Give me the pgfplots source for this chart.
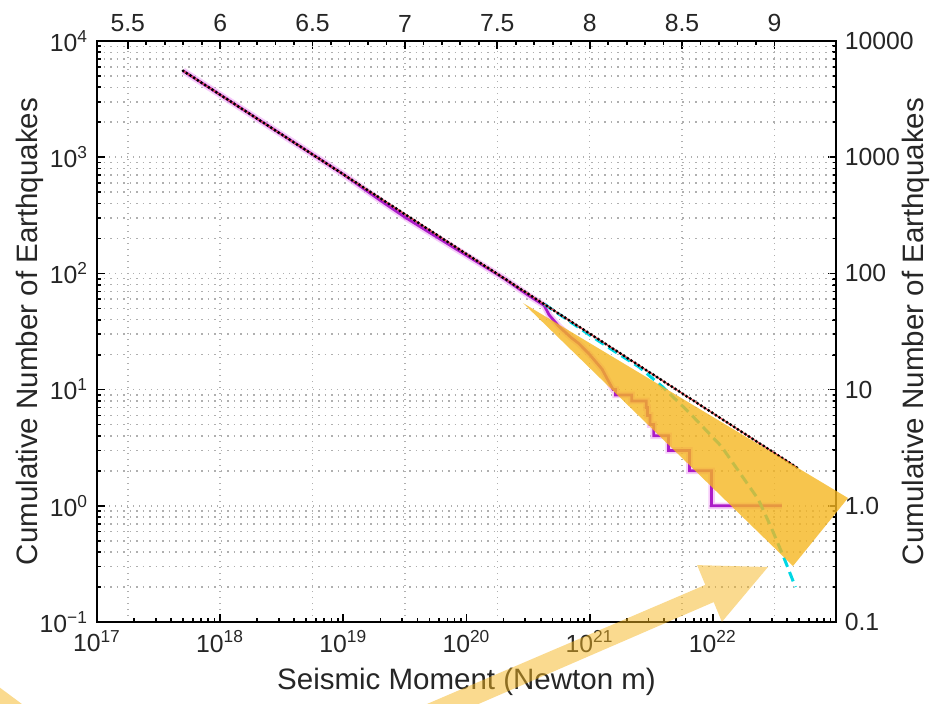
\documentclass[border=0pt]{standalone}
\usepackage{fontspec}
\setmainfont{Liberation Sans}
\usepackage{pgfplots}
\pgfplotsset{compat=1.18}
\usetikzlibrary{calc}
\definecolor{mag}{RGB}{172,28,200}
\definecolor{magglow}{RGB}{240,170,245}
\definecolor{cyn}{RGB}{0,215,228}
\definecolor{yel}{RGB}{245,182,32}
\definecolor{gridc}{RGB}{175,175,175}
\definecolor{redl}{RGB}{225,80,90}

\begin{document}
\begin{tikzpicture}
\pgfplotsset{
  every axis/.append style={
    scale only axis, width=295.6pt, height=232.4pt,
    axis line style={line width=1pt, black},
    tick style={line width=0.7pt, black},
    major tick length=3.2pt, minor tick length=1.7pt,
    tick label style={font=\fontsize{9.9}{12}\selectfont, text=black!85},
    /pgf/number format/assume math mode=true,
    grid style={gridc, dotted, line width=0.6pt},
    minor grid style={gridc, dotted, line width=0.6pt},
  }
}
% ---------- top (moment magnitude) and right axis ----------
\begin{axis}[
  xmin=5.333333, xmax=9.333333,
  ymode=log, ymin=0.1, ymax=10000,
  axis x line*=top, axis y line*=right,
  xtick={5.5,6,6.5,7,7.5,8,8.5,9},
  xticklabels={5.5,6,6.5,7,7.5,8,8.5,9},
  minor x tick num=4,
  xmajorgrids,
  ytick={0.1,1,10,100,1000,10000},
  yticklabels={0.1,1.0,10,100,1000,10000},
  minor ytick={0.2,0.3,0.4,0.5,0.6,0.7,0.8,0.9,2,3,4,5,6,7,8,9,20,30,40,50,60,70,80,90,200,300,400,500,600,700,800,900,2000,3000,4000,5000,6000,7000,8000,9000},
  ylabel={Cumulative Number of Earthquakes},
  every axis y label/.style={at={(axis description cs:1.108,0.5)}, rotate=90, anchor=center,
    font=\fontsize{11.8}{14}\selectfont, text=black!85},
]
\end{axis}
% ---------- main axis ----------
\begin{axis}[
  xmode=log, ymode=log,
  xmin=1e17, xmax=1e23, ymin=0.1, ymax=10000,
  xtick pos=left, ytick pos=left,
  xtick={1e17,1e18,1e19,1e20,1e21,1e22},
  xticklabels={10\textsuperscript{17},10\textsuperscript{18},10\textsuperscript{19},10\textsuperscript{20},10\textsuperscript{21},10\textsuperscript{22}},
  minor xtick={2e17,3e17,4e17,5e17,6e17,7e17,8e17,9e17,2e18,3e18,4e18,5e18,6e18,7e18,8e18,9e18,2e19,3e19,4e19,5e19,6e19,7e19,8e19,9e19,2e20,3e20,4e20,5e20,6e20,7e20,8e20,9e20,2e21,3e21,4e21,5e21,6e21,7e21,8e21,9e21,2e22,3e22,4e22,5e22,6e22,7e22,8e22,9e22},
  ytick={0.1,1,10,100,1000,10000},
  yticklabels={10\textsuperscript{−1},10\textsuperscript{0},10\textsuperscript{1},10\textsuperscript{2},10\textsuperscript{3},10\textsuperscript{4}},
  minor ytick={0.2,0.3,0.4,0.5,0.6,0.7,0.8,0.9,2,3,4,5,6,7,8,9,20,30,40,50,60,70,80,90,200,300,400,500,600,700,800,900,2000,3000,4000,5000,6000,7000,8000,9000},
  ymajorgrids, yminorgrids,
  clip=false,
  xlabel={Seismic Moment (Newton m)},
  ylabel={Cumulative Number of Earthquakes},
  every axis x label/.style={at={(axis description cs:0.5,-0.103)}, anchor=center,
    font=\fontsize{11.8}{14}\selectfont, text=black!85},
  every axis y label/.style={at={(axis description cs:-0.0905,0.5)}, rotate=90, anchor=center,
    font=\fontsize{11.8}{14}\selectfont, text=black!85},
]
\coordinate (SW) at (rel axis cs:0,0);
% observed catalogue (glow + line)
\addplot[magglow, line width=2.6pt, opacity=0.6] coordinates {
(5.0e17,5540) (1e18,3447) (3.16e18,1567) (1e19,712) (2e19,424) (3.16e19,305) (5e19,225)
(7.94e19,166) (1.26e20,123) (2e20,91) (3.16e20,65) (4.27e20,53) (4.68e20,44) (5.62e20,35)
(7.08e20,28) (8.13e20,25) (1e21,20) (1.26e21,15) (1.41e21,12) (1.55e21,10) (1.62e21,10)
(1.62e21,9) (2.19e21,9) (2.19e21,8) (2.88e21,8) (2.88e21,7) (2.95e21,7) (2.95e21,6)
(3.09e21,6) (3.09e21,5) (3.31e21,5) (3.31e21,4) (4.37e21,4) (4.37e21,3) (6.46e21,3)
(6.46e21,2) (9.77e21,2) (9.77e21,1) (3.63e22,1)};
\addplot[mag, line width=1.1pt] coordinates {
(5.0e17,5540) (1e18,3447) (3.16e18,1567) (1e19,712) (2e19,424) (3.16e19,305) (5e19,225)
(7.94e19,166) (1.26e20,123) (2e20,91) (3.16e20,65) (4.27e20,53) (4.68e20,44) (5.62e20,35)
(7.08e20,28) (8.13e20,25) (1e21,20) (1.26e21,15) (1.41e21,12) (1.55e21,10) (1.62e21,10)
(1.62e21,9) (2.19e21,9) (2.19e21,8) (2.88e21,8) (2.88e21,7) (2.95e21,7) (2.95e21,6)
(3.09e21,6) (3.09e21,5) (3.31e21,5) (3.31e21,4) (4.37e21,4) (4.37e21,3) (6.46e21,3)
(6.46e21,2) (9.77e21,2) (9.77e21,1) (3.63e22,1)};
% tapered Gutenberg-Richter
\addplot[cyn, line width=1.2pt, dash pattern=on 4pt off 2.2pt] coordinates {
(4.27e20,54.5) (1e21,29.5) (1.585e21,21.4) (2.51e21,15.7) (3.89e21,10.6) (6.46e21,6.31)
(1.175e22,3.24) (1.74e22,1.78) (2.34e22,1.135) (2.95e22,0.665) (3.72e22,0.372) (4.68e22,0.20)};
% pure Gutenberg-Richter power law
\addplot[redl, line width=0.6pt] coordinates {(5.0e17,5540) (4.8e22,2.14)};
\addplot[black, line width=1.3pt, line cap=round, dash pattern=on 0pt off 1.75pt] coordinates {(5.0e17,5540) (4.8e22,2.14)};
\end{axis}
% ---------- yellow annotations (pixel frame of the 935x703 picture) ----------
\begin{scope}[shift={($(SW)+(-38.8pt,248.8pt)$)}, x=0.4pt, y=-0.4pt]
  \clip (0,0) rectangle (935,703);
  \fill[yel, fill opacity=0.8] (523,303) -- (848,498) -- (793,566) -- cycle;
  \fill[yel, fill opacity=0.5] (342.3,763.0) -- (713.7,602.1) -- (721.9,621.9) -- (768,567)
       -- (697.1,565.1) -- (705.3,584.9) -- (333.9,743.8) -- cycle;
  \fill[yel, fill opacity=0.5] (-5,684) -- (30,710) -- (-5,710) -- cycle;
\end{scope}
\pgfresetboundingbox
\begin{scope}[shift={($(SW)+(-38.8pt,248.8pt)$)}, x=0.4pt, y=-0.4pt]
  \path[use as bounding box] (0,0) rectangle (935,703);
\end{scope}
\end{tikzpicture}
\end{document}
